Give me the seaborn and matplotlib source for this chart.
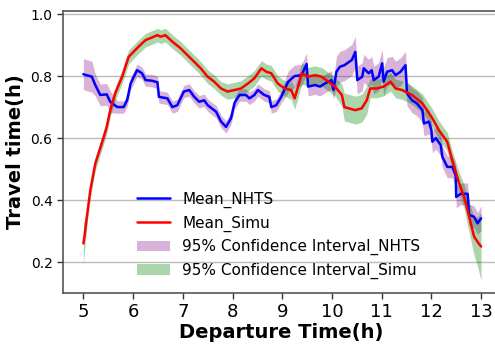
import numpy as np
import pandas as pd
import matplotlib
matplotlib.use("Agg")
import matplotlib.pyplot as plt
import seaborn as sns
from matplotlib.patches import Patch
from matplotlib.lines import Line2D

# ---- data ----
t_nhts = [5.00,5.17,5.24,5.34,5.47,5.54,5.68,5.81,5.88,5.95,6.08,6.18,6.25,6.38,6.49,6.52,6.69,6.79,6.89,7.02,
          7.13,7.23,7.33,7.43,7.50,7.67,7.77,7.87,7.97,8.04,8.14,8.27,8.34,8.44,8.51,8.64,8.74,8.78,8.88,8.98,
          9.12,9.25,9.39,9.49,9.52,9.66,9.76,9.86,9.93,9.99,10.03,10.09,10.16,10.25,10.40,10.47,10.51,10.61,10.64,10.74,
          10.80,10.84,10.94,11.01,11.04,11.11,11.21,11.28,11.38,11.48,11.51,11.61,11.71,11.82,11.85,11.95,12.00,12.02,12.09,12.19,
          12.22,12.32,12.42,12.49,12.50,12.59,12.73,12.76,12.86,12.93,13.00]
mean_nhts = [0.806,0.798,0.771,0.739,0.741,0.717,0.700,0.700,0.722,0.776,0.819,0.809,0.787,0.785,0.780,0.733,0.728,0.700,0.706,0.750,
             0.755,0.733,0.717,0.722,0.706,0.685,0.653,0.636,0.664,0.713,0.739,0.739,0.728,0.739,0.755,0.739,0.733,0.700,0.706,0.733,
             0.782,0.800,0.803,0.839,0.766,0.771,0.766,0.776,0.782,0.787,0.755,0.814,0.830,0.835,0.852,0.878,0.787,0.798,0.825,0.809,
             0.819,0.787,0.798,0.841,0.782,0.814,0.819,0.803,0.814,0.835,0.744,0.722,0.712,0.690,0.647,0.653,0.626,0.588,0.600,0.577,
             0.540,0.507,0.507,0.480,0.410,0.420,0.420,0.352,0.346,0.325,0.341]
ci_nhts = [0.050,0.050,0.035,0.035,0.035,0.035,0.020,0.020,0.020,0.020,0.020,0.020,0.020,0.020,0.020,0.020,0.020,0.020,0.020,0.020,
           0.020,0.020,0.020,0.020,0.020,0.020,0.020,0.020,0.020,0.020,0.020,0.020,0.020,0.020,0.020,0.020,0.020,0.020,0.020,0.020,
           0.035,0.035,0.035,0.035,0.030,0.030,0.030,0.030,0.030,0.030,0.030,0.050,0.050,0.050,0.050,0.050,0.045,0.045,0.045,0.045,
           0.045,0.045,0.045,0.045,0.045,0.045,0.045,0.045,0.045,0.045,0.040,0.040,0.040,0.040,0.040,0.040,0.035,0.035,0.035,0.035,
           0.035,0.035,0.035,0.035,0.035,0.035,0.035,0.035,0.035,0.035,0.040]

t_simu = [5.00,5.02,5.07,5.14,5.24,5.37,5.47,5.54,5.64,5.78,5.91,6.11,6.25,6.49,6.55,6.65,6.79,6.96,7.09,7.23,
          7.36,7.50,7.63,7.77,7.90,8.04,8.17,8.31,8.44,8.58,8.68,8.78,8.91,9.05,9.18,9.25,9.35,9.39,9.52,9.66,
          9.79,9.93,10.06,10.20,10.25,10.47,10.60,10.70,10.77,10.90,11.04,11.18,11.28,11.41,11.61,11.82,12.02,12.15,12.32,12.42,
          12.56,12.66,12.76,12.86,12.93,13.00]
mean_simu = [0.260,0.280,0.346,0.432,0.518,0.583,0.636,0.690,0.744,0.798,0.862,0.895,0.916,0.932,0.927,0.932,0.911,0.889,0.868,0.846,
             0.825,0.798,0.782,0.760,0.750,0.755,0.760,0.776,0.793,0.825,0.814,0.809,0.776,0.760,0.755,0.728,0.782,0.809,0.798,0.803,
             0.798,0.782,0.766,0.739,0.700,0.690,0.696,0.722,0.760,0.760,0.766,0.782,0.760,0.755,0.739,0.712,0.664,0.626,0.588,0.529,
             0.454,0.410,0.346,0.282,0.265,0.250]
ci_simu = [0.070,0.050,0.030,0.025,0.022,0.022,0.022,0.022,0.022,0.022,0.022,0.022,0.022,0.022,0.022,0.022,0.022,0.022,0.022,0.022,
           0.022,0.022,0.022,0.022,0.025,0.025,0.025,0.025,0.025,0.025,0.025,0.025,0.025,0.025,0.030,0.035,0.035,0.035,0.030,0.030,
           0.030,0.030,0.030,0.035,0.045,0.045,0.045,0.045,0.030,0.030,0.030,0.030,0.030,0.030,0.030,0.030,0.030,0.030,0.030,0.030,
           0.035,0.040,0.050,0.060,0.080,0.110]

labels = ["Mean_NHTS", "Mean_Simu", "95% Confidence Interval_NHTS", "95% Confidence Interval_Simu"]
x_ticks = [5, 6, 7, 8, 9, 10, 11, 12, 13]
y_ticks = [0.2, 0.4, 0.6, 0.8, 1.0]

df_n = pd.DataFrame({"t": t_nhts, "v": mean_nhts, "ci": ci_nhts})
df_s = pd.DataFrame({"t": t_simu, "v": mean_simu, "ci": ci_simu})

sns.set_style("white")
plt.rcParams["text.color"] = "black"
plt.rcParams["axes.labelcolor"] = "black"
plt.rcParams["xtick.color"] = "black"
plt.rcParams["ytick.color"] = "black"

fig = plt.figure(figsize=(4.95, 3.47), dpi=100)
ax = fig.add_axes([63/495, 1 - 293/347, 1 - 63/495 + 0.01, (293 - 11)/347])

ax.fill_between(df_n["t"], df_n["v"] - df_n["ci"], df_n["v"] + df_n["ci"],
                color="purple", alpha=0.3, linewidth=0)
ax.fill_between(df_s["t"], df_s["v"] - df_s["ci"], df_s["v"] + df_s["ci"],
                color="green", alpha=0.33, linewidth=0)
sns.lineplot(data=df_n, x="t", y="v", ax=ax, color="blue", linewidth=1.8,
             estimator=None, sort=False)
sns.lineplot(data=df_s, x="t", y="v", ax=ax, color="red", linewidth=1.8,
             estimator=None, sort=False)

ax.set_xlim(4.59, 13.38)
ax.set_ylim(0.1, 1.01)
ax.set_xticks(x_ticks)
ax.set_xticklabels([str(v) for v in x_ticks], fontsize=13)
ax.set_yticks(y_ticks)
ax.set_yticklabels([f"{v:.1f}" for v in y_ticks], fontsize=10)
ax.yaxis.grid(True, color="#bbbbbb", linewidth=1)
ax.xaxis.grid(False)
ax.tick_params(axis="both", which="both", direction="out", length=4, width=1, color="#333333",
               bottom=True, left=True)
for s in ["left", "bottom", "top"]:
    ax.spines[s].set_color("#555555")
    ax.spines[s].set_linewidth(1.2)
ax.spines["right"].set_visible(False)

ax.set_xlabel("Departure Time(h)", fontsize=14, fontweight="bold", labelpad=1)
ax.set_ylabel("Travel time(h)", fontsize=14, fontweight="bold", labelpad=4)

handles = [Line2D([], [], color="blue", lw=1.8),
           Line2D([], [], color="red", lw=1.8),
           Patch(facecolor="purple", alpha=0.3, linewidth=0),
           Patch(facecolor="green", alpha=0.33, linewidth=0)]
ax.legend(handles, labels, loc="lower left", bbox_to_anchor=(0.137, 0.0), frameon=False,
          fontsize=11, handlelength=2.2, labelspacing=0.5, handletextpad=0.8)

fig.savefig("out.png", dpi=100)
